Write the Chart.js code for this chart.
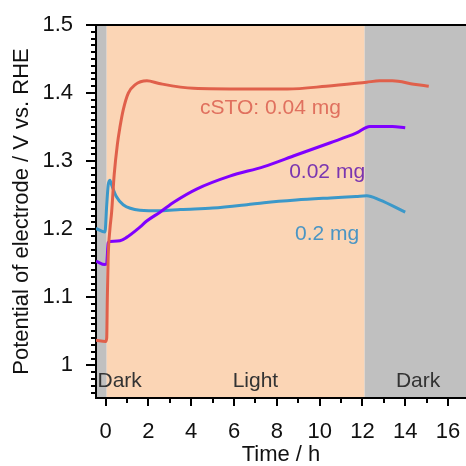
<!DOCTYPE html>
<html>
<head>
<meta charset="utf-8">
<script src="https://cdn.jsdelivr.net/npm/chart.js@4.4.1/dist/chart.umd.min.js"></script>
<style>
  html, body { margin: 0; padding: 0; background: #fff; }
  #wrap { width: 466px; height: 466px; }
</style>
</head>
<body>
<div id="wrap"><canvas id="potentialChart"></canvas></div>
<script>
// values (time in h, potential in V vs. RHE)
const redX = [-0.45, 0.0, 0.05, 0.08, 0.12, 0.2, 0.28, 0.4, 0.55, 0.67, 0.82, 1.06, 1.37, 1.93, 2.5, 4.1, 6.6, 8.5, 10.3, 12.2, 12.8, 13.4, 14.4, 15.1];
const redY = [1.037, 1.035, 1.04, 1.10, 1.16, 1.20, 1.225, 1.28, 1.325, 1.35, 1.375, 1.40, 1.412, 1.418, 1.414, 1.407, 1.406, 1.406, 1.41, 1.416, 1.418, 1.418, 1.413, 1.41];

const purpleX = [-0.45, -0.03, 0.05, 0.12, 0.2, 0.67, 0.98, 1.6, 1.92, 2.54, 3.2, 4.25, 5.8, 7.4, 8.9, 10.5, 11.7, 12.35, 13.4, 14.0];
const purpleY = [1.153, 1.148, 1.15, 1.18, 1.182, 1.183, 1.188, 1.203, 1.212, 1.225, 1.240, 1.259, 1.278, 1.292, 1.309, 1.327, 1.341, 1.351, 1.351, 1.349];

const blueX = [-0.45, -0.03, 0.05, 0.12, 0.2, 0.28, 0.5, 0.82, 1.6, 2.6, 3.5, 5.0, 6.6, 7.4, 8.9, 10.5, 11.7, 12.2, 12.8, 14.0];
const blueY = [1.201, 1.196, 1.235, 1.265, 1.272, 1.265, 1.248, 1.236, 1.228, 1.227, 1.229, 1.231, 1.236, 1.239, 1.243, 1.246, 1.248, 1.249, 1.243, 1.225];

const seriesNames = ["cSTO: 0.04 mg", "0.02 mg", "0.2 mg"];

// illumination periods
const periodNames = ["Dark", "Light", "Dark"];
const periodStart = [-0.45, 0.05, 12.1];
const periodEnd = [0.05, 12.1, 16.84];

const xTicks = [0, 2, 4, 6, 8, 10, 12, 14, 16];
const xMinorTicks = [1, 3, 5, 7, 9, 11, 13, 15];
const yTicks = [1.0, 1.1, 1.2, 1.3, 1.4, 1.5];

const X_MIN = -0.45, X_MAX = 16.84, Y_MIN = 0.952, Y_MAX = 1.5;

const toPoints = (xs, ys) => xs.map((x, i) => ({ x: x, y: ys[i] }));

const periodColors = ["#c0c0c0", "#fbd5b5", "#c0c0c0"];
const lineColors = ["#e0604b", "#8000ff", "#3b98c9"];
const textColors = ["#e0705e", "#7a35b0", "#4a95c4"];

// label anchors in data units
const seriesLabelAt = [[7.7, 1.378], [10.35, 1.284], [10.35, 1.192]];
const periodLabelAt = [[-0.38, 0.977, "left"], [7.0, 0.977, "center"], [14.6, 0.977, "center"]];

const decor = {
  id: "decor",
  beforeDraw(chart) {
    const { ctx, chartArea: a, scales: { x } } = chart;
    ctx.save();
    periodStart.forEach((s, i) => {
      const x0 = Math.max(x.getPixelForValue(s), a.left);
      const x1 = Math.min(x.getPixelForValue(periodEnd[i]), a.right);
      ctx.fillStyle = periodColors[i];
      ctx.fillRect(x0, a.top, x1 - x0, a.bottom - a.top);
    });
    ctx.restore();
  },
  afterDraw(chart) {
    const { ctx, chartArea: a, scales: { x, y } } = chart;
    ctx.save();
    ctx.strokeStyle = "#000";
    ctx.lineWidth = 2;
    // top frame line
    ctx.beginPath();
    ctx.moveTo(a.left - 1, a.top);
    ctx.lineTo(a.right, a.top);
    ctx.stroke();
    // x ticks
    xTicks.forEach(v => {
      const px = Math.round(x.getPixelForValue(v));
      ctx.beginPath(); ctx.moveTo(px, a.bottom); ctx.lineTo(px, a.bottom + 8); ctx.stroke();
    });
    xMinorTicks.forEach(v => {
      const px = Math.round(x.getPixelForValue(v));
      ctx.beginPath(); ctx.moveTo(px, a.bottom); ctx.lineTo(px, a.bottom + 5); ctx.stroke();
    });
    // y ticks, minor every 0.01
    yTicks.forEach(v => {
      const py = Math.round(y.getPixelForValue(v));
      ctx.beginPath(); ctx.moveTo(a.left - 10, py); ctx.lineTo(a.left, py); ctx.stroke();
    });
    for (let k = 96; k <= 150; k++) {
      if (k % 10 === 0) continue;
      const py = Math.round(y.getPixelForValue(k / 100));
      ctx.beginPath(); ctx.moveTo(a.left - 5, py); ctx.lineTo(a.left, py); ctx.stroke();
    }
    // text labels
    ctx.font = "21px 'Liberation Sans', Arial, sans-serif";
    ctx.textBaseline = "middle";
    seriesNames.forEach((t, i) => {
      ctx.fillStyle = textColors[i];
      ctx.textAlign = "center";
      ctx.fillText(t, x.getPixelForValue(seriesLabelAt[i][0]), y.getPixelForValue(seriesLabelAt[i][1]));
    });
    ctx.fillStyle = "#333";
    periodNames.forEach((t, i) => {
      ctx.textAlign = periodLabelAt[i][2];
      ctx.fillText(t, x.getPixelForValue(periodLabelAt[i][0]), y.getPixelForValue(periodLabelAt[i][1]));
    });
    ctx.restore();
  }
};

const fmt = v => String(Number(v.toFixed(1)));

new Chart(document.getElementById("potentialChart"), {
  type: "scatter",
  data: {
    datasets: [
      { label: seriesNames[0], data: toPoints(redX, redY), borderColor: lineColors[0] },
      { label: seriesNames[1], data: toPoints(purpleX, purpleY), borderColor: lineColors[1] },
      { label: seriesNames[2], data: toPoints(blueX, blueY), borderColor: lineColors[2] }
    ].map(d => Object.assign(d, {
      showLine: true, pointRadius: 0, borderWidth: 3, cubicInterpolationMode: "monotone", fill: false
    }))
  },
  options: {
    responsive: true,
    maintainAspectRatio: false,
    animation: false,
    layout: { padding: { top: 25, right: 0, left: 0, bottom: 0 } },
    plugins: { legend: { display: false }, tooltip: { enabled: false } },
    scales: {
      x: {
        type: "linear",
        min: X_MIN,
        max: X_MAX,
        afterBuildTicks: s => { s.ticks = xTicks.map(v => ({ value: v })); },
        afterFit: s => { s.height = 68; s.paddingLeft = 0; s.paddingRight = 0; },
        grid: { display: false },
        border: { display: true, color: "#000", width: 2 },
        ticks: { autoSkip: false, maxRotation: 0, padding: 13, color: "#111", font: { family: "'Liberation Sans', Arial", size: 22 }, callback: v => fmt(v) },
        title: { display: true, text: "Time / h", color: "#111", font: { family: "'Liberation Sans', Arial", size: 22, lineHeight: 1 }, padding: 0 }
      },
      y: {
        type: "linear",
        min: Y_MIN,
        max: Y_MAX,
        afterBuildTicks: s => { s.ticks = yTicks.map(v => ({ value: v })); },
        afterFit: s => { s.width = 96; s.paddingTop = 0; s.paddingBottom = 0; },
        grid: { display: false },
        border: { display: true, color: "#000", width: 2 },
        ticks: { autoSkip: false, padding: 15, color: "#111", font: { family: "'Liberation Sans', Arial", size: 22 }, callback: v => fmt(v) },
        title: { display: true, text: "Potential of electrode / V vs. RHE", color: "#111", font: { family: "'Liberation Sans', Arial", size: 22, lineHeight: 1 }, padding: { top: 11, bottom: 0 } }
      }
    }
  },
  plugins: [decor]
});
</script>
</body>
</html>
